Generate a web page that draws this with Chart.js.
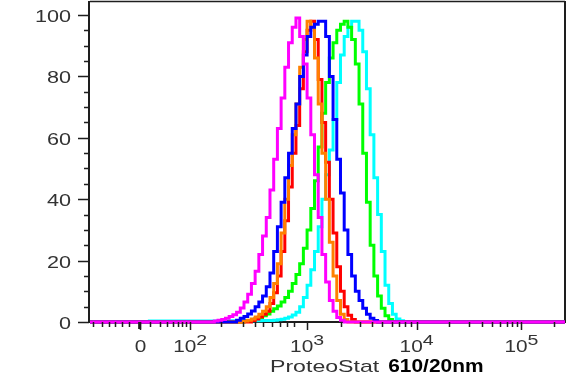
<!DOCTYPE html>
<html>
<head>
<meta charset="utf-8">
<title>ProteoStat 610/20nm histogram</title>
<script src="https://cdn.jsdelivr.net/npm/chart.js@4"></script>
<style>
  html, body { margin: 0; padding: 0; background: #fff; }
  #wrap { width: 567px; height: 387px; }
</style>
</head>
<body>
<div id="wrap"><canvas id="histo" width="567" height="387"></canvas></div>
<script>
// display channels of the histogram bins (0..1024 across the x axis)
const CHANNELS = [0,
  256, 264, 272, 280, 288, 296, 304, 312, 320, 328, 336, 344, 352, 360, 368, 376, 384, 392, 400, 408,
  416, 424, 432, 440, 448, 456, 464, 472, 480, 488, 496, 504, 512, 520, 528, 536, 544, 552, 560, 568,
  576, 584, 592, 600, 608, 616, 624, 632, 640, 648, 656, 664, 672, 680, 688,
  1024];

// % of max per bin, one list per sample
const magenta = [0,
  0, 0, 0.3, 0.6, 0.8, 1.2, 1.8, 2.4, 3.2, 4.6, 6.5, 9, 12.5, 16.5, 22, 28, 34, 43, 53, 63,
  73, 83, 91, 96, 99, 93, 84, 73, 61, 48, 34, 22, 13, 7, 3.5, 1.5, 0.6, 0, 0, 0,
  0, 0, 0, 0, 0, 0, 0, 0, 0, 0, 0, 0, 0, 0, 0,
  0];
const blue = [0,
  0, 0, 0, 0, 0, 0, 0, 0, 0.6, 1.2, 1.8, 2.6, 3.6, 5, 6.5, 8.5, 11.5, 16, 23, 31,
  39, 47, 55, 63, 71, 80, 87, 93, 96, 97, 98, 98, 93, 80, 66, 53, 42, 30, 22, 15,
  10, 7, 4.5, 2.5, 1.2, 0.5, 0, 0, 0, 0, 0, 0, 0, 0, 0,
  0];
const orange = [0,
  0, 0, 0, 0, 0, 0, 0, 0, 0, 0, 0.3, 0.6, 1, 1.6, 2.5, 3.5, 5, 8, 12.5, 19,
  29, 40, 51, 61, 71, 83, 92, 98, 96, 86, 71, 55, 40, 26, 15, 7, 2.5, 0.8, 0, 0,
  0, 0, 0, 0, 0, 0, 0, 0, 0, 0, 0, 0, 0, 0, 0,
  0];
const red = [0,
  0, 0, 0, 0, 0, 0, 0, 0, 0, 0, 0, 0, 0.5, 1, 1.6, 2.5, 3.5, 6, 9.5, 15,
  23, 33, 44, 55, 64, 76, 88, 95, 98, 92, 79, 65, 52, 40, 29, 18, 10, 5, 2.2, 0.8,
  0, 0, 0, 0, 0, 0, 0, 0, 0, 0, 0, 0, 0, 0, 0,
  0];
const green = [0,
  0, 0, 0, 0, 0, 0, 0, 0, 0, 0, 0.3, 0.5, 0.8, 1.1, 1.5, 2, 2.6, 3.5, 4.3, 5.2,
  6.5, 8, 10, 12.5, 15.5, 19, 24, 30, 37, 46, 57, 68, 78, 86, 91, 95, 97, 98, 96, 92,
  84, 71, 55, 39, 25, 15, 8.5, 4.5, 2, 0.8, 0, 0, 0, 0, 0,
  0];
const cyan = [0,
  0.3, 0.3, 0.3, 0.3, 0.4, 0.3, 0.4, 0.4, 0.4, 0.4, 0.4, 0.4, 0.4, 0.4, 0.4, 0.5, 0.5, 0.5, 0.6, 0.7,
  0.9, 1.2, 1.6, 2.3, 3.2, 5, 8, 12, 17, 23, 31, 40, 48, 56, 66, 78, 87, 93, 96, 98,
  98, 95, 88, 76, 61, 47, 35, 23, 12, 6, 2.5, 1, 0.4, 0, 0,
  0];

// axis decorations
const X_TICK_TEXT = ['0', '10', '10', '10', '10'];
const X_TICK_EXP = ['', '2', '3', '4', '5'];
const X_TICK_CHANNELS = [107, 216, 468, 704, 930];
const X_MINOR_CHANNELS = [7, 25, 40, 54, 68, 84, 129, 151, 167, 180, 190, 198, 207,
  282, 330, 356, 373, 392, 410, 425, 440,
  541, 583, 608, 630, 651, 666, 679, 691,
  774, 817, 845, 867, 884, 898, 910, 920, 1000];
const Y_TICKS = [0, 20, 40, 60, 80, 100];
const Y_MINOR = [5, 10, 15, 25, 30, 35, 45, 50, 55, 65, 70, 75, 85, 90, 95];
const X_TITLE = 'ProteoStat';
const X_TITLE_UNIT = '610/20nm';

const INK = '#1e1e1e';
const LABEL = '#333333';

function stretchText(ctx, str, x, y, font, color, sx, align) {
  ctx.save();
  ctx.font = font;
  ctx.fillStyle = color;
  ctx.textBaseline = 'alphabetic';
  const w = ctx.measureText(str).width * sx;
  const x0 = align === 'right' ? x - w : align === 'center' ? x - w / 2 : x;
  ctx.translate(x0, y);
  ctx.scale(sx, 1);
  ctx.fillText(str, 0, 0);
  ctx.restore();
  return w;
}

function textWidth(ctx, str, font, sx) {
  ctx.save();
  ctx.font = font;
  const w = ctx.measureText(str).width * sx;
  ctx.restore();
  return w;
}

const flowAxes = {
  id: 'flowAxes',
  beforeDatasetsDraw(chart) {
    const { ctx, chartArea: a } = chart;
    ctx.save();
    ctx.strokeStyle = INK;
    ctx.lineWidth = 1.5;
    ctx.beginPath();
    ctx.moveTo(a.left, a.top + 0.5);
    ctx.lineTo(a.right, a.top + 0.5);
    ctx.stroke();
    ctx.lineWidth = 2;
    ctx.beginPath();
    ctx.moveTo(a.right, a.top);
    ctx.lineTo(a.right, a.bottom);
    ctx.moveTo(a.left - 1, a.top);
    ctx.lineTo(a.left - 1, a.bottom + 1);
    ctx.moveTo(a.left - 1, a.bottom);
    ctx.lineTo(a.right + 1, a.bottom);
    ctx.stroke();
    ctx.restore();
  },
  afterDraw(chart) {
    const { ctx, chartArea: a, scales: { x, y } } = chart;
    ctx.save();
    ctx.strokeStyle = INK;
    ctx.lineWidth = 1.5;
    ctx.beginPath();
    // y ticks
    Y_TICKS.forEach(v => {
      const py = Math.round(y.getPixelForValue(v)) + 0.5;
      ctx.moveTo(a.left - 12, py);
      ctx.lineTo(a.left - 1, py);
    });
    Y_MINOR.forEach(v => {
      const py = Math.round(y.getPixelForValue(v)) + 0.5;
      ctx.moveTo(a.left - 6, py);
      ctx.lineTo(a.left - 1, py);
    });
    // x ticks
    X_TICK_CHANNELS.forEach(c => {
      const px = Math.round(x.getPixelForValue(c)) + 0.5;
      ctx.moveTo(px, a.bottom);
      ctx.lineTo(px, a.bottom + 8);
    });
    X_MINOR_CHANNELS.forEach(c => {
      const px = Math.round(x.getPixelForValue(c)) + 0.5;
      ctx.moveTo(px, a.bottom);
      ctx.lineTo(px, a.bottom + 5);
    });
    ctx.stroke();
    // heavier zero tick
    ctx.lineWidth = 3;
    ctx.beginPath();
    const pz = x.getPixelForValue(X_TICK_CHANNELS[0]);
    ctx.moveTo(pz, a.bottom);
    ctx.lineTo(pz, a.bottom + 7);
    ctx.stroke();
    ctx.restore();

    // y labels
    const yFont = '16px "Liberation Sans", Arial, sans-serif';
    Y_TICKS.forEach(v => {
      const py = y.getPixelForValue(v);
      stretchText(ctx, String(v), 71, py + 7, yFont, LABEL, 1.35, 'right');
    });

    // x labels with superscripts
    const baseFont = '16px "Liberation Sans", Arial, sans-serif';
    const supFont = '15px "Liberation Sans", Arial, sans-serif';
    X_TICK_CHANNELS.forEach((c, i) => {
      const px = x.getPixelForValue(c);
      const wb = textWidth(ctx, X_TICK_TEXT[i], baseFont, 1.3);
      const ws = X_TICK_EXP[i] ? textWidth(ctx, X_TICK_EXP[i], supFont, 1.3) : 0;
      const x0 = px - (wb + ws) / 2 + (i === 0 ? 1 : 0);
      stretchText(ctx, X_TICK_TEXT[i], x0, 352, baseFont, LABEL, 1.3, 'left');
      if (ws) stretchText(ctx, X_TICK_EXP[i], x0 + wb, 345, supFont, LABEL, 1.3, 'left');
    });

    // axis title
    const w1 = stretchText(ctx, X_TITLE, 270, 372, '17px "Liberation Sans", Arial, sans-serif', LABEL, 1.36, 'left');
    stretchText(ctx, X_TITLE_UNIT, 270 + w1 + 9, 372, 'bold 19px "Liberation Sans", Arial, sans-serif', '#000', 1.1, 'left');
  }
};

function series(values, color) {
  return {
    data: CHANNELS.map((c, i) => ({ x: c, y: values[i] })),
    borderColor: color,
    borderWidth: 3,
    pointRadius: 0,
    stepped: 'middle',
    fill: false,
    clip: false
  };
}

new Chart(document.getElementById('histo'), {
  type: 'line',
  data: {
    datasets: [
      series(magenta, '#ff00ff'),
      series(blue, '#0000ff'),
      series(orange, '#ff8000'),
      series(red, '#ff0000'),
      series(green, '#00ff00'),
      series(cyan, '#00ffff')
    ]
  },
  options: {
    responsive: false,
    animation: false,
    layout: { padding: { left: 90, right: 2, top: 1, bottom: 65 } },
    plugins: { legend: { display: false }, tooltip: { enabled: false } },
    scales: {
      x: { type: 'linear', min: 0, max: 1024, display: false },
      y: { type: 'linear', min: 0, max: 104.56, display: false }
    }
  },
  plugins: [flowAxes]
});
</script>
</body>
</html>
